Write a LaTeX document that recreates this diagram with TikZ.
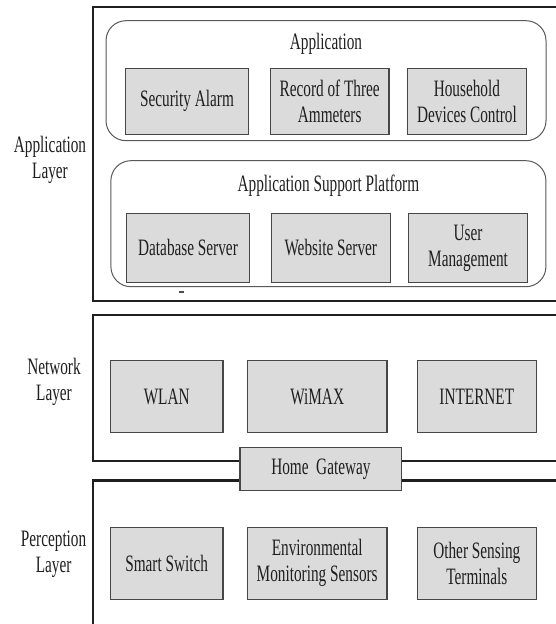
\documentclass[tikz,border=0pt]{standalone}
\usepackage{fontspec}
\setmainfont{Liberation Serif}[FakeStretch=0.65]
\begin{document}
\begin{tikzpicture}[x=1pt,y=-1pt,
  txt/.style={font=\fontsize{23.5}{26}\selectfont, text=black!88, align=center},
  layerline/.style={draw=black!88, line width=2.2pt},
  group/.style={draw=black!65, line width=1pt, rounded corners=20pt},
  cell/.style={txt, draw=black!72, fill=black!14, line width=1.2pt, inner sep=0pt, outer sep=0pt},
  title/.style={txt, anchor=base, inner sep=0pt}]
\useasboundingbox (0,0) rectangle (555,624);
\fill[white] (0,0) rectangle (555,624);
% layer frames
\coordinate (appTR) at (557,7.3);
\coordinate (appTL) at (92.7,7.3);
\coordinate (appBL) at (92.7,301);
\coordinate (appBR) at (557,301);
\draw[layerline] (appTR) -- (appTL) -- (appBL) -- (appBR);
\coordinate (netTR) at (557,315);
\coordinate (netTL) at (92.7,315);
\coordinate (netBL) at (92.7,460.7);
\coordinate (netBR) at (557,460.7);
\draw[layerline] (netTR) -- (netTL) -- (netBL) -- (netBR);
\coordinate (perTR) at (557,480.5);
\coordinate (perTL) at (92.7,480.5);
\coordinate (perBL) at (92.7,626);
\draw[layerline] (perTR) -- (perTL) -- (perBL);
% layer labels
\node[txt] (lapp) at (50,160) {Application\\Layer};
\node[txt] (lnet) at (54,382) {Network\\Layer};
\node[txt] (lper) at (53.6,554) {Perception\\Layer};
% application group
\node[group, minimum width=440pt, minimum height=120pt, inner sep=0pt] (gapp) at (326,80.7) {};
\node[title] (tapp) at (326,49) {Application};
\node[cell, minimum width=123.5pt, minimum height=66pt] (sa) at (187,101.3) {Security Alarm};
\node[cell, minimum width=118.6pt, minimum height=66pt] (rt) at (329.7,101.3) {Record of Three\\Ammeters};
\node[cell, minimum width=119pt, minimum height=66pt] (hd) at (466.9,101.3) {Household\\Devices Control};
% application support platform
\node[group, minimum width=435pt, minimum height=126pt, inner sep=0pt] (gsup) at (328.4,223.7) {};
\node[title] (tsup) at (328.4,191) {Application Support Platform};
\node[cell, minimum width=123.2pt, minimum height=69.2pt] (db) at (188,247.9) {Database Server};
\node[cell, minimum width=118.6pt, minimum height=69.2pt] (ws) at (330.8,247.9) {Website Server};
\node[cell, minimum width=118.6pt, minimum height=69.2pt] (um) at (468.1,247.9) {User\\Management};
\coordinate (dashA) at (178.5,291.7);
\coordinate (dashB) at (184.3,291.7);
\draw[black!70, line width=2pt] (dashA) -- (dashB);
% network layer
\node[cell, minimum width=112.6pt, minimum height=72.4pt] (wlan) at (166.7,396.5) {WLAN};
\node[cell, minimum width=139.5pt, minimum height=72.4pt] (wimax) at (317.2,396.5) {WiMAX};
\node[cell, minimum width=119pt, minimum height=72.4pt] (inet) at (476.8,396.5) {INTERNET};
% gateway
\node[cell, minimum width=161.8pt, minimum height=43.4pt] (gw) at (320.9,469) {Home\ \ Gateway};
% perception layer
\node[cell, minimum width=112.6pt, minimum height=72pt] (ss) at (166.7,563.3) {Smart Switch};
\node[cell, minimum width=139.5pt, minimum height=72pt] (env) at (317.2,563.3) {Environmental\\Monitoring Sensors};
\node[cell, minimum width=119pt, minimum height=72pt] (ost) at (476.8,563.3) {Other Sensing\\Terminals};
\end{tikzpicture}
\end{document}
